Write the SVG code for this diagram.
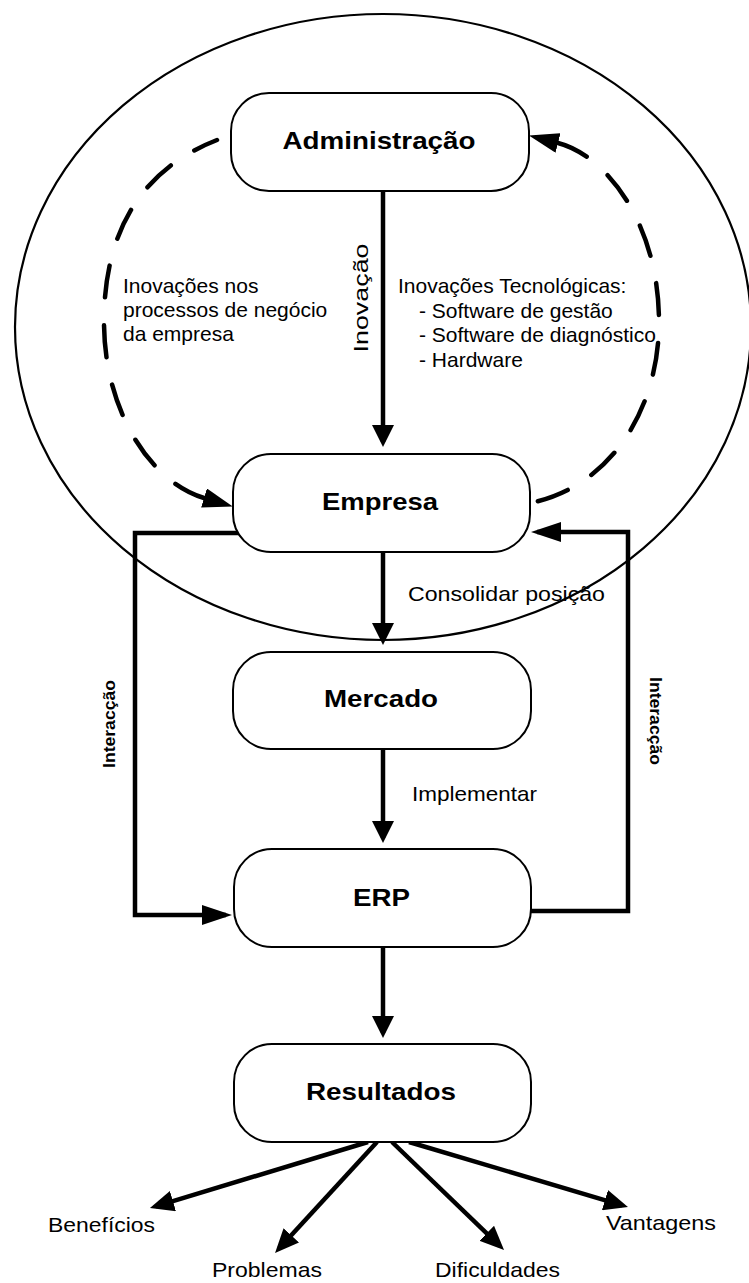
<svg xmlns="http://www.w3.org/2000/svg" width="749" height="1283" viewBox="0 0 749 1283">
  <style>
    .box { fill: #ffffff; stroke: #000000; stroke-width: 2; }
    .title { font-family: "Liberation Sans", Arial, sans-serif; font-weight: bold; font-size: 24px; text-anchor: middle; fill: #000000; }
    .lbl { font-family: "Liberation Sans", Arial, sans-serif; font-size: 21px; fill: #000000; }
    .lbl-b { font-family: "Liberation Sans", Arial, sans-serif; font-size: 16px; font-weight: bold; text-anchor: middle; fill: #000000; }
    .solid { fill: none; stroke: #000000; stroke-width: 4.5; }
    .dashed { fill: none; stroke: #000000; stroke-width: 4.5; stroke-dasharray: 32 28; stroke-linecap: round; }
    .ring { fill: none; stroke: #000000; stroke-width: 2.2; }
  </style>
  <defs>
    <marker id="ah-v" viewBox="0 -11 22 22" refX="17" refY="0" markerWidth="22" markerHeight="22" markerUnits="userSpaceOnUse" orient="auto">
      <path d="M0,-11 L22,0 L0,11 Z" fill="#000"/>
    </marker>
    <marker id="ah-loop" viewBox="0 -10 30 20" refX="24" refY="0" markerWidth="30" markerHeight="20" markerUnits="userSpaceOnUse" orient="auto">
      <path d="M0,-10 L30,0 L0,10 Z" fill="#000"/>
    </marker>
    <marker id="ah-dash" viewBox="0 -10 30 20" refX="0" refY="0" markerWidth="30" markerHeight="20" markerUnits="userSpaceOnUse" orient="auto-start-reverse">
      <path d="M0,-10 L30,0 L0,10 Z" fill="#000"/>
    </marker>
    <marker id="ah-fan" viewBox="0 -10.5 24 21" refX="18" refY="0" markerWidth="24" markerHeight="21" markerUnits="userSpaceOnUse" orient="auto">
      <path d="M0,-10.5 L24,0 L0,10.5 Z" fill="#000"/>
    </marker>
  </defs>

  <rect width="749" height="1283" fill="#ffffff"/>

  <!-- organisational boundary -->
  <g id="boundary">
    <ellipse class="ring" cx="383" cy="327" rx="368" ry="313"/>
  </g>

  <g id="connectors">
    <!-- innovation feedback cycle -->
    <path class="dashed" d="M204,498 C150,482 104,410 104,322 C104,227 145,168 217,140" marker-start="url(#ah-dash)"/>
    <path class="dashed" d="M558,143 C605,155 659,222 659,322 C659,410 610,487 530,503" marker-start="url(#ah-dash)"/>

    <!-- main flow -->
    <line class="solid" x1="383" y1="191" x2="383" y2="442" marker-end="url(#ah-v)"/>
    <line class="solid" x1="383" y1="552" x2="383" y2="640" marker-end="url(#ah-v)"/>
    <line class="solid" x1="383" y1="750" x2="383" y2="838" marker-end="url(#ah-v)"/>
    <line class="solid" x1="383" y1="947" x2="383" y2="1033" marker-end="url(#ah-v)"/>

    <!-- interaction loops -->
    <path class="solid" d="M240,533 H135 V915 H226" marker-end="url(#ah-loop)"/>
    <path class="solid" d="M525,911 H628 V532 H537" marker-end="url(#ah-loop)"/>

    <!-- outcomes -->
    <line class="solid" x1="368" y1="1142" x2="155.7" y2="1206.3" marker-end="url(#ah-fan)"/>
    <line class="solid" x1="377" y1="1142" x2="279.1" y2="1248.6" marker-end="url(#ah-fan)"/>
    <line class="solid" x1="392" y1="1142" x2="499.7" y2="1245.8" marker-end="url(#ah-fan)"/>
    <line class="solid" x1="409" y1="1142" x2="622.2" y2="1205.3" marker-end="url(#ah-fan)"/>
  </g>

  <g id="edge-labels">
    <text class="lbl" x="123" y="293">Inovações nos</text>
    <text class="lbl" x="123" y="317">processos de negócio</text>
    <text class="lbl" x="123" y="341">da empresa</text>

    <text class="lbl" x="398" y="293">Inovações Tecnológicas:</text>
    <text class="lbl" x="419" y="317.5">- Software de gestão</text>
    <text class="lbl" x="419" y="342">- Software de diagnóstico</text>
    <text class="lbl" x="419" y="366.5">- Hardware</text>

    <text class="lbl" font-size="25" text-anchor="middle" textLength="109" lengthAdjust="spacingAndGlyphs" transform="translate(368,298) rotate(-90)">Inovação</text>

    <text class="lbl" x="408" y="601" textLength="197" lengthAdjust="spacingAndGlyphs" font-size="22">Consolidar posição</text>
    <text class="lbl" x="412" y="801" textLength="125" lengthAdjust="spacingAndGlyphs" font-size="22">Implementar</text>

    <text class="lbl-b" textLength="88" lengthAdjust="spacingAndGlyphs" transform="translate(115,724) rotate(-90)">Interacção</text>
    <text class="lbl-b" textLength="88" lengthAdjust="spacingAndGlyphs" transform="translate(650,721) rotate(90)">Interacção</text>
  </g>

  <g id="node-administracao">
    <rect class="box" x="231" y="93" width="298" height="98" rx="38" ry="38"/>
    <text class="title" x="379" y="149" textLength="193" lengthAdjust="spacingAndGlyphs">Administração</text>
  </g>
  <g id="node-empresa">
    <rect class="box" x="233" y="454" width="297" height="98" rx="38" ry="38"/>
    <text class="title" x="380" y="510" textLength="116" lengthAdjust="spacingAndGlyphs">Empresa</text>
  </g>
  <g id="node-mercado">
    <rect class="box" x="233" y="652" width="298" height="97" rx="38" ry="38"/>
    <text class="title" x="381" y="707" textLength="114" lengthAdjust="spacingAndGlyphs">Mercado</text>
  </g>
  <g id="node-erp">
    <rect class="box" x="234" y="849" width="297" height="98" rx="38" ry="38"/>
    <text class="title" x="381.5" y="906" textLength="57" lengthAdjust="spacingAndGlyphs">ERP</text>
  </g>
  <g id="node-resultados">
    <rect class="box" x="234" y="1044" width="297" height="98" rx="38" ry="38"/>
    <text class="title" x="381" y="1100" textLength="150" lengthAdjust="spacingAndGlyphs">Resultados</text>
  </g>

  <g id="outcome-labels">
    <text class="lbl" x="48" y="1232" font-size="22" textLength="107" lengthAdjust="spacingAndGlyphs">Benefícios</text>
    <text class="lbl" x="212" y="1277" font-size="22" textLength="110" lengthAdjust="spacingAndGlyphs">Problemas</text>
    <text class="lbl" x="435" y="1277" font-size="22" textLength="125" lengthAdjust="spacingAndGlyphs">Dificuldades</text>
    <text class="lbl" x="606" y="1230" font-size="22" textLength="110" lengthAdjust="spacingAndGlyphs">Vantagens</text>
  </g>
</svg>
